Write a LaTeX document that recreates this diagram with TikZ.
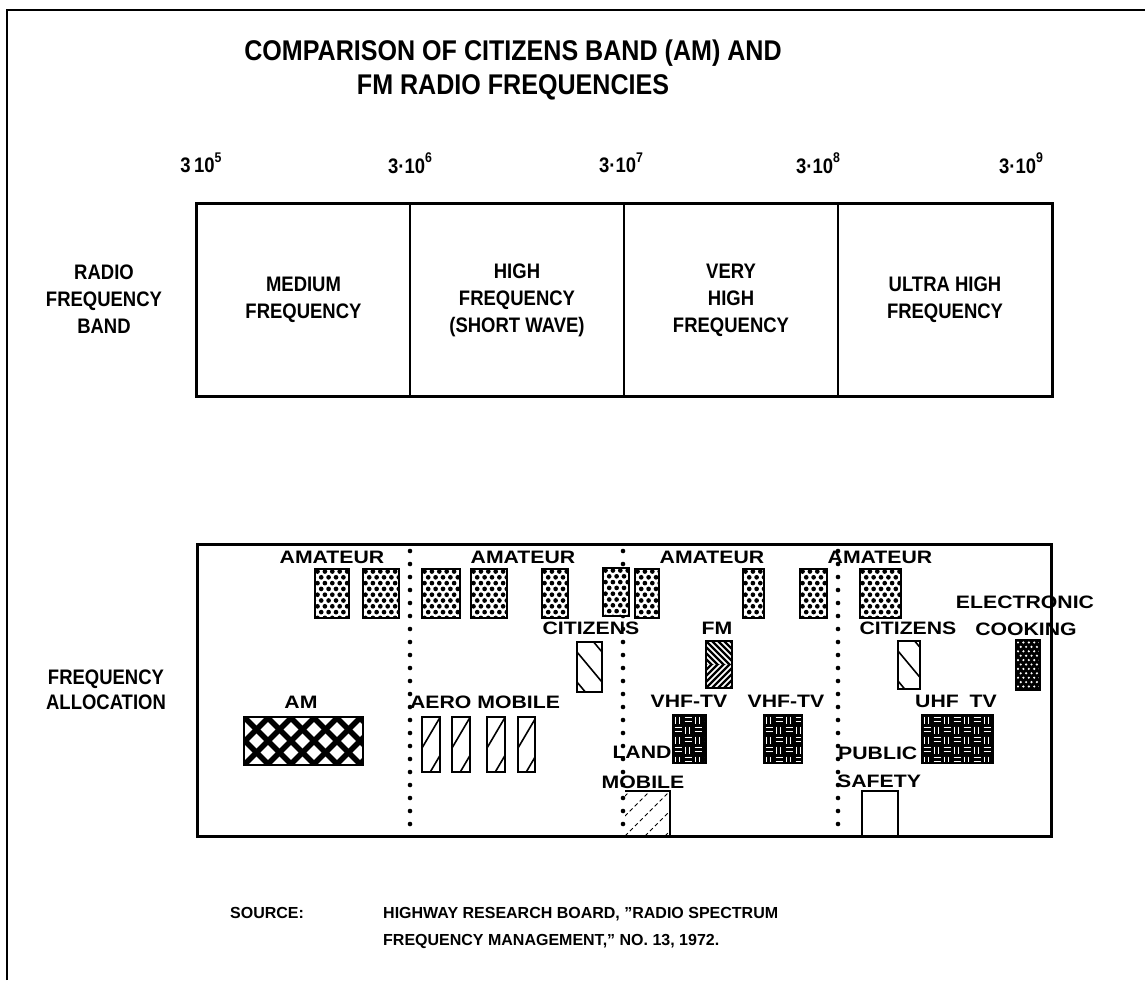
\documentclass[tikz,border=0pt]{standalone}
\usepackage{fontspec}
\setmainfont{Liberation Sans}
\newfontfamily\condf[FakeStretch=0.88]{Liberation Sans}
\newfontfamily\widef[FakeStretch=1.18]{Liberation Sans}
\newcommand\supx[1]{\raisebox{0.5em}{\fontsize{14}{14}\selectfont #1}}
\tikzset{
  boxbase/.style={draw, line width=2.6pt, inner sep=0pt, outer sep=0pt},
  bandcell/.style={draw, line width=1.2pt, inner sep=0pt, minimum height=192pt, align=center,
    font=\condf\bfseries\fontsize{21}{27}\selectfont},
  condlab/.style={font=\condf\bfseries\fontsize{21}{25}\selectfont, align=center, inner sep=0pt},
  freqlab/.style={font=\condf\bfseries\fontsize{21}{22}\selectfont, inner sep=0pt},
  widelab/.style={font=\widef\bfseries\fontsize{18}{20}\selectfont, inner sep=0pt},
  srclab/.style={font=\bfseries\fontsize{16}{20}\selectfont, inner sep=0pt, anchor=base west},
  dotline/.style={line width=4.6pt, line cap=round, dash pattern=on 0pt off 13pt},
  amabox/.style={boxbase, fill=white, path picture={
    \foreach \j in {0,...,9}{\foreach \i in {-1,...,7}{
      \fill[black] ([xshift={\i*7.4pt+mod(\j,2)*3.7pt+2.5pt}, yshift={-\j*5.8pt-2.5pt}]path picture bounding box.north west) circle (2.35pt);
    }}}},
  cookbox/.style={boxbase, fill=black, path picture={
    \foreach \j in {0,...,11}{\foreach \i in {0,...,5}{
      \fill[white] ([xshift={\i*5.4pt+mod(\j,2)*2.7pt+2pt}, yshift={-\j*4.4pt-2.5pt}]path picture bounding box.north west) circle (1.2pt);
    }}}},
  citbox/.style={boxbase, fill=white, path picture={
    \foreach \k in {-1,...,1}{
      \draw[black, line width=1.6pt] ([yshift={-(10+30*\k)*1pt}]path picture bounding box.north west) -- ++(60pt,-72pt);
    }}},
  aerobox/.style={boxbase, fill=white, path picture={
    \foreach \k in {31,69}{
      \draw[black, line width=1.6pt] ([yshift={-\k*1pt}]path picture bounding box.north west) -- ++(40pt,68pt);
    }}},
  fmbox/.style={boxbase, fill=white, path picture={
    \begin{scope}
      \clip (path picture bounding box.north west) rectangle (path picture bounding box.east);
      \foreach \k in {-5,...,5}
        \draw[black, line width=2.4pt] ([xshift=\k*6pt]path picture bounding box.north west) -- ++(30pt,-30pt);
    \end{scope}
    \begin{scope}
      \clip (path picture bounding box.west) rectangle (path picture bounding box.south east);
      \foreach \k in {-5,...,5}
        \draw[black, line width=2.4pt] ([xshift=\k*6pt]path picture bounding box.south west) -- ++(30pt,30pt);
    \end{scope}}},
  ambox/.style={boxbase, fill=white, path picture={
    \foreach \k in {-2,...,5}{
      \draw[black, line width=5.5pt] ([xshift=\k*23pt]path picture bounding box.north west) -- ++(50pt,-50pt);
      \draw[black, line width=5.5pt] ([xshift=\k*23pt]path picture bounding box.south west) -- ++(50pt,50pt);
    }}},
  tvbox/.style={boxbase, fill=black, path picture={
    \foreach \i in {0,...,7}{\foreach \j in {0,...,5}{
      \pgfmathtruncatemacro\pq{mod(\i+\j,2)}
      \ifnum\pq=0
        \foreach \m in {2.5,6.5}
          \draw[white, line width=1.1pt] ([xshift={\i*10pt+\m*1pt}, yshift={-\j*10pt-1.5pt}]path picture bounding box.north west) -- ++(0pt,-7pt);
      \else
        \foreach \m in {2.5,6.5}
          \draw[white, line width=1.1pt] ([xshift={\i*10pt+1.5pt}, yshift={-\j*10pt-\m*1pt}]path picture bounding box.north west) -- ++(7pt,0pt);
      \fi
    }}}},
  landbox/.style={inner sep=0pt, outer sep=0pt, path picture={
    \foreach \k in {-3,...,3}
      \draw[black, line width=0.8pt, dash pattern=on 4pt off 3pt] ([xshift=\k*20pt]path picture bounding box.south west) -- ++(50pt,50pt);
    }},
}
\begin{document}
\begin{tikzpicture}[x=1pt,y=-1pt]
\useasboundingbox[fill=white] (0,0) rectangle (1145,980);
% frame
\coordinate (fbl) at (7,980);
\coordinate (ftl) at (7,10);
\coordinate (ftr) at (1145,10);
\draw[line width=2.5pt] (fbl) -- (ftl) -- (ftr);

% title
\node[font=\condf\bfseries\fontsize{28.5}{34}\selectfont, align=center, inner sep=0pt] (title) at (513,70)
  {COMPARISON OF CITIZENS BAND (AM) AND\\FM RADIO FREQUENCIES};

% frequency marks
\node[freqlab] (f5) at (201,163) {3\,10\supx{5}};
\node[freqlab] (f6) at (410,163) {3·10\supx{6}};
\node[freqlab] (f7) at (621,163) {3·10\supx{7}};
\node[freqlab] (f8) at (818,163) {3·10\supx{8}};
\node[freqlab] (f9) at (1021,163) {3·10\supx{9}};

% band boxes
\node[bandcell, minimum width=213pt] (mf) at (303.5,300) {MEDIUM\\FREQUENCY};
\node[bandcell, minimum width=214pt] (hf) at (517,300) {HIGH\\FREQUENCY\\(SHORT WAVE)};
\node[bandcell, minimum width=214pt] (vhf) at (731,300) {VERY\\HIGH\\FREQUENCY};
\node[bandcell, minimum width=214pt] (uhf) at (945,300) {ULTRA HIGH\\FREQUENCY};
\draw[line width=2.2pt] (mf.north west) rectangle (uhf.south east);
\node[condlab, font=\condf\bfseries\fontsize{21}{27}\selectfont] (rfb) at (104,299) {RADIO\\FREQUENCY\\BAND};

% allocation box
\node[draw, line width=3pt, minimum width=854pt, minimum height=292pt, inner sep=0pt] (alloc) at (624,690) {};
\node[condlab] (fa) at (106,690) {FREQUENCY\\ALLOCATION};

% dotted lines
\coordinate (d1t) at (410,551); \coordinate (d1b) at (410,832);
\coordinate (d2t) at (623,551); \coordinate (d2b) at (623,832);
\coordinate (d3t) at (838,551); \coordinate (d3b) at (838,832);
\draw[dotline] (d1t) -- (d1b);
\draw[dotline] (d2t) -- (d2b);
\draw[dotline] (d3t) -- (d3b);

% amateur
\node[widelab] (am1) at (332,557) {AMATEUR};
\node[widelab] (am2) at (523,557) {AMATEUR};
\node[widelab] (am3) at (712,557) {AMATEUR};
\node[widelab] (am4) at (880,557) {AMATEUR};
\node[amabox, minimum width=34pt, minimum height=49pt] (a1) at (332,593.5) {};
\node[amabox, minimum width=36pt, minimum height=49pt] (a2) at (381,593.5) {};
\node[amabox, minimum width=38pt, minimum height=49pt] (a3) at (441,593.5) {};
\node[amabox, minimum width=36pt, minimum height=49pt] (a4) at (489,593.5) {};
\node[amabox, minimum width=26pt, minimum height=49pt] (a5) at (555,593.5) {};
\node[amabox, minimum width=26pt, minimum height=48pt] (a6) at (616,592) {};
\node[amabox, minimum width=24pt, minimum height=49pt] (a7) at (647,593.5) {};
\node[amabox, minimum width=21pt, minimum height=49pt] (a8) at (753.5,593.5) {};
\node[amabox, minimum width=27pt, minimum height=49pt] (a9) at (813.5,593.5) {};
\node[amabox, minimum width=41pt, minimum height=49pt] (a10) at (880.5,593.5) {};

% citizens, FM, cooking
\node[widelab] (cit1) at (591,628) {CITIZENS};
\node[widelab] (cit2) at (908,628) {CITIZENS};
\node[widelab] (fm) at (717,628) {FM};
\node[widelab] (elec) at (1025,602) {ELECTRONIC};
\node[widelab] (cook) at (1026,629) {COOKING};
\node[citbox, minimum width=25pt, minimum height=50pt] (cb1) at (589.5,667) {};
\node[citbox, minimum width=22pt, minimum height=48pt] (cb2) at (909,665) {};
\node[fmbox, minimum width=26pt, minimum height=47pt] (fmb) at (719,664.5) {};
\node[cookbox, minimum width=24pt, minimum height=50pt] (ckb) at (1028,665) {};

% AM, aero mobile, TV
\node[widelab] (aml) at (301,702) {AM};
\node[widelab] (aero) at (485,702) {AERO MOBILE};
\node[widelab] (vhf1) at (689,701) {VHF-TV};
\node[widelab] (vhf2) at (786,701) {VHF-TV};
\node[widelab] (uhftv) at (956,701) {UHF\hspace{0.6em}TV};
\node[ambox, minimum width=119pt, minimum height=48pt] (amb) at (303.5,741) {};
\node[aerobox, minimum width=18pt, minimum height=55pt] (ae1) at (431,744.5) {};
\node[aerobox, minimum width=18pt, minimum height=55pt] (ae2) at (461,744.5) {};
\node[aerobox, minimum width=18pt, minimum height=55pt] (ae3) at (496,744.5) {};
\node[aerobox, minimum width=17pt, minimum height=55pt] (ae4) at (526.5,744.5) {};
\node[tvbox, minimum width=33pt, minimum height=48pt] (tv1) at (689.5,739) {};
\node[tvbox, minimum width=38pt, minimum height=48pt] (tv2) at (783,739) {};
\node[tvbox, minimum width=71pt, minimum height=48pt] (tv3) at (957.5,739) {};

% land mobile, public safety
\node[widelab] (land) at (642,752) {LAND};
\node[widelab] (mob) at (643,782) {MOBILE};
\node[widelab, anchor=west] (pub) at (838,753) {PUBLIC};
\node[widelab, anchor=west] (saf) at (837,781) {SAFETY};
\node[landbox, minimum width=45pt, minimum height=45pt] (lmb) at (647.5,813.5) {};
\draw[line width=2.6pt] (lmb.north west) -- (lmb.north east) -- (lmb.south east);
\node[boxbase, minimum width=36pt, minimum height=45pt] (psb) at (880,813.5) {};

% source
\node[srclab] (src) at (230,918) {SOURCE:};
\node[srclab] (src1) at (383,918) {HIGHWAY RESEARCH BOARD, ''RADIO SPECTRUM};
\node[srclab] (src2) at (383,945) {FREQUENCY MANAGEMENT,'' NO. 13, 1972.};
\end{tikzpicture}
\end{document}
